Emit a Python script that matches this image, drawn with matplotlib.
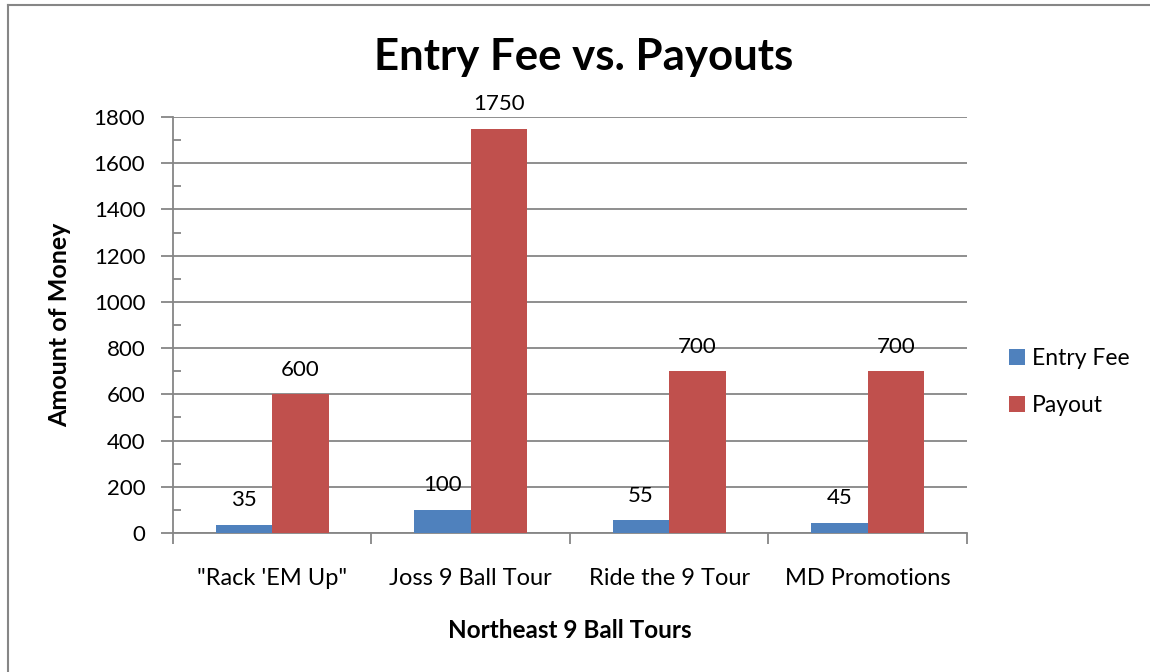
import matplotlib
matplotlib.use("Agg")
import matplotlib.pyplot as plt
from matplotlib.lines import Line2D
from matplotlib.ticker import MultipleLocator
import numpy as np

categories = ['"Rack \'EM Up"', "Joss 9 Ball Tour", "Ride the 9 Tour", "MD Promotions"]
entry_fee = [35, 100, 55, 45]
payout = [600, 1750, 700, 700]
series_names = ["Entry Fee", "Payout"]

plt.rcParams['font.family'] = ['Lato', 'DejaVu Sans']

W, H = 1150, 672
fig = plt.figure(figsize=(W / 100, H / 100), dpi=100)
fig.patch.set_facecolor("white")

# axes placement (pixels)
left, right, top, bottom = 173, 967, 117, 533
ax = fig.add_axes([left / W, 1 - bottom / H, (right - left) / W, (bottom - top) / H])

gray = "#868686"
blue = "#4F81BD"
red = "#C0504D"

x = np.arange(len(categories))
w = 1 / 3.5
b1 = ax.bar(x - w / 2, entry_fee, width=w, color=blue, zorder=3, label=series_names[0])
b2 = ax.bar(x + w / 2, payout, width=w, color=red, zorder=3, label=series_names[1])

ax.set_xlim(-0.5, len(categories) - 0.5)
ax.set_ylim(0, 1800)

for bars, vals in ((b1, entry_fee), (b2, payout)):
    for r, v in zip(bars, vals):
        ax.annotate(str(v), (r.get_x() + r.get_width() / 2, v), xytext=(0, 10.5),
                    textcoords="offset points", ha="center", va="bottom",
                    fontsize=16, color="black")

ax.yaxis.set_major_locator(MultipleLocator(200))
ax.yaxis.set_minor_locator(MultipleLocator(100))
ax.grid(axis="y", which="major", color=gray, linewidth=1.3, zorder=0)
ax.set_axisbelow(True)

for s in ("top", "right"):
    ax.spines[s].set_visible(False)
for s in ("left", "bottom"):
    ax.spines[s].set_color(gray)
    ax.spines[s].set_linewidth(1.3)

ax.tick_params(axis="y", which="major", direction="out", length=9, width=1.3,
               color=gray, labelsize=16, pad=11)
ax.tick_params(axis="y", which="minor", direction="in", length=6, width=1.3, color=gray)

# category boundary ticks
ax.set_xticks(np.arange(len(categories) + 1) - 0.5)
ax.set_xticklabels([])
ax.set_xticks(x, minor=True)
ax.set_xticklabels(categories, minor=True)
ax.tick_params(axis="x", which="major", direction="out", length=8, width=1.3, color=gray)
ax.tick_params(axis="x", which="minor", length=0, labelsize=17, pad=25)

ax.set_ylabel("Amount of Money", fontsize=18, fontweight="bold", labelpad=16)
ax.set_xlabel("Northeast 9 Ball Tours", fontsize=17.5, fontweight="bold", labelpad=22)

fig.text(584 / W, 1 - 57 / H, "Entry Fee vs. Payouts", ha="center", va="center",
         fontsize=31.5, fontweight="bold")

leg = fig.legend(handles=[b1, b2], labels=series_names, loc="center left",
                 bbox_to_anchor=(988 / W, 1 - 382 / H), frameon=False,
                 fontsize=16.5, handlelength=0.7, handleheight=0.7,
                 handletextpad=0.3, labelspacing=1.1)

# chart border (gray frame)
fig.add_artist(Line2D([7.5 / W, 7.5 / W], [0, 1 - 4.5 / H], color=gray, linewidth=1.5,
                      transform=fig.transFigure))
fig.add_artist(Line2D([7.5 / W, 1], [1 - 4.5 / H, 1 - 4.5 / H], color=gray, linewidth=1.5,
                      transform=fig.transFigure))

fig.savefig("out.png", dpi=100, facecolor="white")
